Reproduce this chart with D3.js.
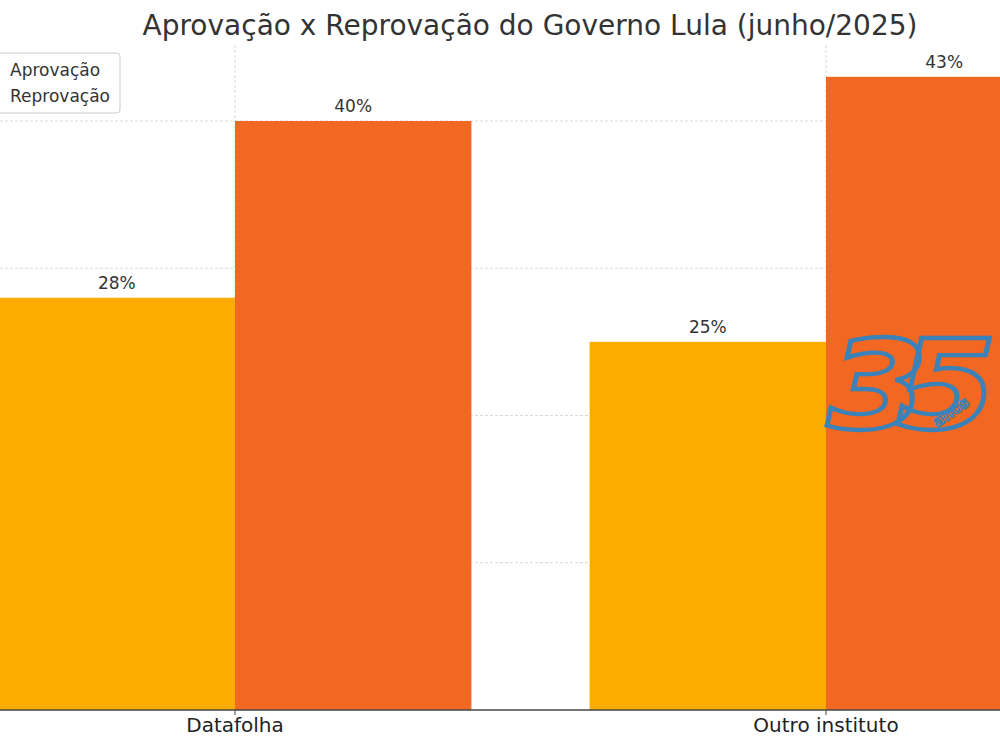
<!DOCTYPE html>
<html><head><meta charset="utf-8">
<script src="https://cdn.jsdelivr.net/npm/d3@7/dist/d3.min.js"></script>
<style>body{margin:0;background:#fff;}svg{display:block;font-family:"DejaVu Sans",sans-serif;}</style>
</head><body>
<svg id="c" width="1000" height="750"></svg>
<script>
const categories = ["Datafolha", "Outro instituto"];
const seriesNames = ["Aprovação", "Reprovação"];
const aprovacao = [28, 25];
const reprovacao = [40, 43];
const yTicks = [0, 10, 20, 30, 40];
const title = "Aprovação x Reprovação do Governo Lula (junho/2025)";
const colors = ["#fdab00", "#f26722"];

const svg = d3.select("#c");
const W = 1000, H = 750;
const x = d3.scaleLinear().domain([0, 1]).range([235, 826]);
const y = d3.scaleLinear().domain([0, 40]).range([710, 121]);
const barW = 0.4;
const plotTop = 45;

// grid
const g = svg.append("g");
g.selectAll("line.h").data(yTicks.filter(d => d > 0)).join("line")
  .attr("x1", 0).attr("x2", W).attr("y1", d => y(d)).attr("y2", d => y(d))
  .attr("stroke", "#d9d9d9").attr("stroke-width", 1).attr("stroke-dasharray", "3,2");
g.selectAll("line.v").data(categories).join("line")
  .attr("x1", (d, i) => x(i)).attr("x2", (d, i) => x(i))
  .attr("y1", plotTop).attr("y2", y(0))
  .attr("stroke", "#d9d9d9").attr("stroke-width", 1).attr("stroke-dasharray", "3,2");

// bars
const series = [aprovacao, reprovacao];
series.forEach((vals, s) => {
  svg.append("g").selectAll("rect").data(vals).join("rect")
    .attr("x", (d, i) => x(i + (s === 0 ? -barW : 0)))
    .attr("width", x(barW) - x(0))
    .attr("y", d => y(d))
    .attr("height", d => y(0) - y(d))
    .attr("fill", colors[s]);
  svg.append("g").selectAll("text").data(vals).join("text")
    .attr("x", (d, i) => x(i + (s === 0 ? -barW / 2 : barW / 2)))
    .attr("y", d => y(d) - 9)
    .attr("text-anchor", "middle")
    .attr("font-size", 17).attr("fill", "#333")
    .text(d => d + "%");
});

// x axis
const xa = svg.append("g").attr("transform", `translate(0,${y(0)})`);
xa.append("line").attr("x1", 0).attr("x2", W).attr("stroke", "#444").attr("stroke-width", 1.3);
xa.selectAll("line.t").data(categories).join("line")
  .attr("x1", (d, i) => x(i)).attr("x2", (d, i) => x(i)).attr("y1", 0).attr("y2", 5)
  .attr("stroke", "#444").attr("stroke-width", 1);
xa.selectAll("text").data(categories).join("text")
  .attr("x", (d, i) => x(i)).attr("y", 22)
  .attr("text-anchor", "middle").attr("font-size", 20).attr("fill", "#222")
  .text(d => d);

// title
svg.append("text").attr("x", 530).attr("y", 35).attr("text-anchor", "middle")
  .attr("font-size", 28).attr("fill", "#333").text(title);

// legend
const lg = svg.append("g");
lg.append("rect").attr("x", -40).attr("y", 53).attr("width", 160).attr("height", 60).attr("rx", 3)
  .attr("fill", "#fff").attr("fill-opacity", 0.85).attr("stroke", "#ccc");
lg.selectAll("text").data(seriesNames).join("text")
  .attr("x", 10).attr("y", (d, i) => 76 + i * 26)
  .attr("font-size", 17).attr("fill", "#333").text(d => d);

// watermark logo
const logo = svg.append("g").attr("transform", "translate(896,428)");
logo.append("text").attr("x", 0).attr("y", 0).attr("text-anchor", "middle")
  .attr("font-family", "DejaVu Sans").attr("font-weight", "bold").attr("font-style", "italic")
  .attr("font-size", 145).attr("letter-spacing", -32)
  .attr("fill", "none").attr("stroke", "#3b82b8").attr("stroke-width", 5)
  .attr("transform", "scale(1,0.85)")
  .text("35");
logo.append("text").attr("x", 58).attr("y", -12).attr("text-anchor", "middle")
  .attr("transform", "rotate(-35,58,-12)")
  .attr("font-family", "DejaVu Sans").attr("font-weight", "bold").attr("font-size", 15)
  .attr("fill", "none").attr("stroke", "#3b82b8").attr("stroke-width", 1.5)
  .text("anos");
</script>
</body></html>
